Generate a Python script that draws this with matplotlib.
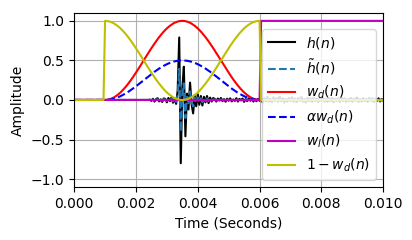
import numpy as np
import matplotlib.pyplot as plt

# sample grid (seconds)
dt = 0.00005
n_samples = 201
alpha = 0.5

# impulse response h(n): zero before 2.45 ms
h_head = [0.005, -0.012, 0.015, -0.02, 0.01, 0.022, -0.018, 0.008, -0.025, 0.02,
          0.012, -0.03, 0.025, -0.015, 0.03, -0.035, 0.02, -0.05, 0.12, 0.79,
          -0.80, 0.15, 0.42, -0.46, 0.08, -0.12, 0.22, -0.05, -0.17, 0.06,
          -0.08, 0.07, -0.06, 0.05, -0.07, 0.04, -0.03, 0.05, -0.04, 0.03,
          -0.02, 0.025]
h_tail = [0.012, -0.02, 0.018, -0.008, 0.025, -0.015, 0.01, -0.022, 0.016, -0.01,
          0.02, -0.018, 0.006, -0.012, 0.022, -0.02, 0.014, -0.006, 0.018, -0.024,
          0.01, -0.014, 0.02, -0.01, 0.015, -0.02, 0.008, -0.016, 0.012, -0.01,
          0.025, -0.03, 0.02, -0.015, 0.035, -0.02, 0.01, -0.025, 0.03, -0.01,
          0.018, -0.022, 0.04, -0.015, 0.02, -0.03, 0.012, -0.018, 0.025, -0.012,
          0.03, -0.02, 0.015, -0.025, 0.02, -0.01, 0.035, -0.02, 0.01, -0.03,
          0.022, -0.015, 0.018, -0.02, 0.028, -0.012, 0.015, -0.025, 0.02, -0.01,
          0.03, -0.018, 0.012, -0.022, 0.025, -0.015, 0.02, -0.028, 0.015, -0.01,
          0.02, -0.025, 0.03, -0.012, 0.018, -0.02, 0.01, -0.015, 0.025, -0.02,
          0.015, -0.01, 0.028, -0.022, 0.012, -0.018, 0.02, -0.015, 0.01, -0.02,
          0.025, -0.012, 0.018, -0.025, 0.015, -0.01, 0.02, -0.018, 0.012, -0.008]

# window w_d(n) from 1 ms to 6 ms, rising half (symmetric)
wd_half = [0.0, 0.001, 0.004, 0.009, 0.016, 0.025, 0.035, 0.048, 0.062, 0.078,
           0.095, 0.115, 0.136, 0.158, 0.181, 0.206, 0.232, 0.259, 0.287, 0.316,
           0.345, 0.376, 0.406, 0.437, 0.469, 0.5, 0.531, 0.563, 0.594, 0.624,
           0.655, 0.684, 0.713, 0.741, 0.768, 0.794, 0.819, 0.842, 0.865, 0.885,
           0.905, 0.922, 0.938, 0.952, 0.965, 0.976, 0.984, 0.991, 0.996, 0.999,
           1.0]

t = np.arange(n_samples) * dt
h = np.array([0.0] * 49 + h_head + h_tail)
w_d = np.array([0.0] * 20 + wd_half + wd_half[-2::-1] + [0.0] * 80)
support = np.array([0] * 20 + [1] * 101 + [0] * 80, dtype=bool)
w_l = np.array([0.0] * 121 + [1.0] * 80)
one_minus = np.where(support, 1 - w_d, 0.0)
h_tilde = h * (alpha * w_d + w_l)

fig = plt.figure(figsize=(4.12, 2.4), dpi=100)
ax = fig.add_axes([0.18, 0.221, 0.75, 0.725])
ax.plot(t, h, 'k', label=r'$h(n)$')
ax.plot(t, h_tilde, '--', color='C0', label=r'$\tilde{h}(n)$')
ax.plot(t, w_d, 'r', label=r'$w_d(n)$')
ax.plot(t, alpha * w_d, 'b--', label=r'$\alpha w_d(n)$')
ax.plot(t, w_l, 'm', label=r'$w_l(n)$')
ax.plot(t, one_minus, 'y', label=r'$1-w_d(n)$')
ax.set_xlim(0, 0.01)
ax.set_ylim(-1.1, 1.1)
ax.set_xlabel("Time (Seconds)")
ax.set_ylabel("Amplitude")
ax.grid(True)
ax.legend(loc='lower right')
fig.savefig("out.png", dpi=100)
